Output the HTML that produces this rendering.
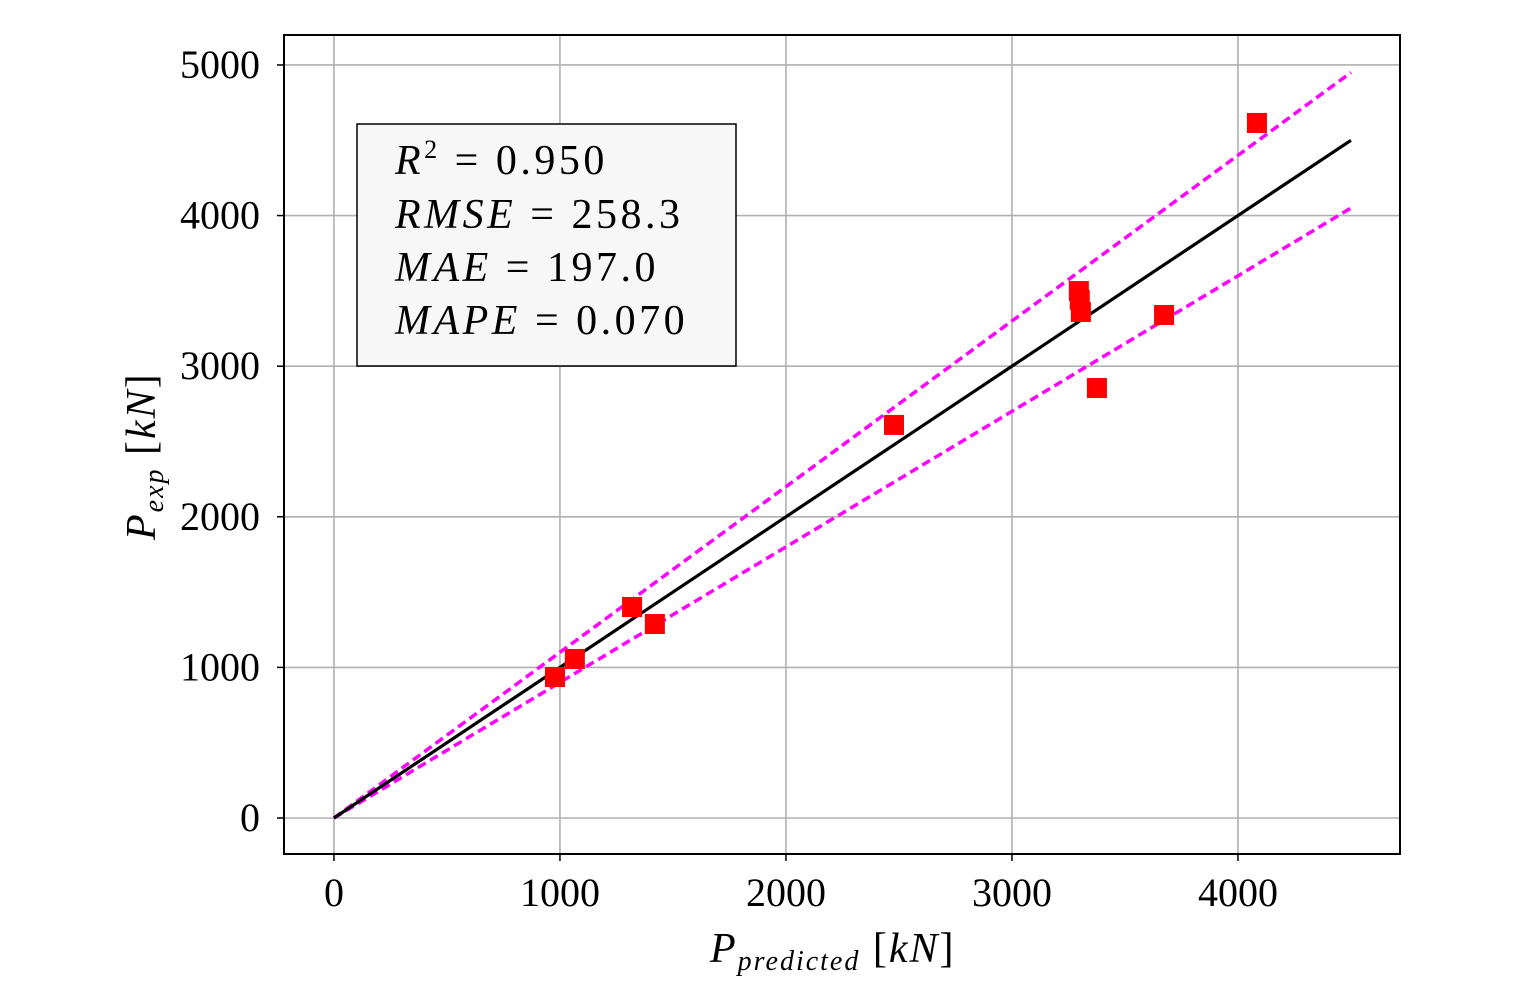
<!DOCTYPE html>
<html><head><meta charset="utf-8"><style>
body{margin:0;background:#fff;}
svg{display:block;font-family:"Liberation Serif",serif;}
</style></head><body>
<svg id="chart" width="1518" height="1008" xmlns="http://www.w3.org/2000/svg">
<rect x="0" y="0" width="1518" height="1008" fill="#fff"/>
<g id="grid"></g>
<g id="lines"></g>
<g id="points"></g>
<rect x="284" y="35" width="1116" height="819" fill="none" stroke="#000" stroke-width="2"/>
<g id="ticks"></g>
<g letter-spacing="3.5">
<rect x="357" y="124" width="379" height="242" fill="#f7f7f7" stroke="#000" stroke-width="1.5"/>
<text x="395" y="174" font-size="42" font-style="italic">R<tspan font-size="26" dy="-16" font-style="normal">2</tspan><tspan dy="16" font-style="normal"> = 0.950</tspan></text>
<text x="395" y="228" font-size="42"><tspan font-style="italic">RMSE</tspan> = 258.3</text>
<text x="395" y="281" font-size="42"><tspan font-style="italic">MAE</tspan> = 197.0</text>
<text x="395" y="334" font-size="42"><tspan font-style="italic">MAPE</tspan> = 0.070</text>
</g>
<text x="710" y="962" font-size="42" letter-spacing="2"><tspan font-style="italic">P</tspan><tspan font-size="28" dy="8" font-style="italic">predicted</tspan><tspan dy="-8">  [</tspan><tspan font-style="italic">kN</tspan>]</text>
<text transform="translate(155,540) rotate(-90)" font-size="42" letter-spacing="2"><tspan font-style="italic">P</tspan><tspan font-size="28" dy="8" font-style="italic">exp</tspan><tspan dy="-8">  [</tspan><tspan font-style="italic">kN</tspan>]</text>
</svg>
<script>
const xTicks=[0,1000,2000,3000,4000];
const yTicks=[0,1000,2000,3000,4000,5000];
const predicted=[4084,3296,3300,3305,3673,3376,2478,1319,1420,1066,978];
const experimental=[4615,3499,3440,3360,3340,2855,2610,1401,1288,1056,936];
const refMax=4500;
const upperFactor=1.1;
const lowerFactor=0.9;
const NS="http://www.w3.org/2000/svg";
const X0=284,X1=1400,Y0=854,Y1=35;
const xmin=-221,xmax=4717,ymin=-239,ymax=5199;
const sx=v=>X0+(v-xmin)/(xmax-xmin)*(X1-X0);
const sy=v=>Y0-(v-ymin)/(ymax-ymin)*(Y0-Y1);
function mk(tag,attrs,parent){const e=document.createElementNS(NS,tag);for(const k in attrs)e.setAttribute(k,attrs[k]);parent.appendChild(e);return e;}
const grid=document.getElementById('grid'),ticks=document.getElementById('ticks');
xTicks.forEach(t=>{
 const g=mk('line',{x1:sx(t),x2:sx(t),y1:Y1,y2:Y0,stroke:'#b0b0b0','stroke-width':1.6},grid);
 
 
 mk('line',{x1:sx(t),x2:sx(t),y1:Y0,y2:Y0+7,stroke:'#000','stroke-width':1.5},ticks);
 const l=mk('text',{x:sx(t),y:Y0+52,'font-size':40,'text-anchor':'middle'},ticks);
 l.textContent=t;
 
 
});
yTicks.forEach(t=>{
 const g=mk('line',{x1:X0,x2:X1,y1:sy(t),y2:sy(t),stroke:'#b0b0b0','stroke-width':1.6},grid);
 
 
 mk('line',{x1:X0-7,x2:X0,y1:sy(t),y2:sy(t),stroke:'#000','stroke-width':1.5},ticks);
 const l=mk('text',{x:X0-24,y:sy(t)+13,'font-size':40,'text-anchor':'end'},ticks);
 l.textContent=t;
 
 
});
const lines=document.getElementById('lines');
const up=mk('line',{x1:sx(0),y1:sy(0),x2:sx(refMax),y2:sy(refMax*upperFactor),stroke:'#ff00ff','stroke-width':3.5,'stroke-dasharray':'9,5'},lines);


const lo=mk('line',{x1:sx(0),y1:sy(0),x2:sx(refMax),y2:sy(refMax*lowerFactor),stroke:'#ff00ff','stroke-width':3.5,'stroke-dasharray':'9,5'},lines);


const pts=document.getElementById('points');
predicted.forEach((p,i)=>{
 const r=mk('rect',{x:sx(p)-10,y:sy(experimental[i])-10,width:20,height:20,fill:'#ff0000'},pts);
 
 
});
const id=mk('line',{x1:sx(0),y1:sy(0),x2:sx(refMax),y2:sy(refMax),stroke:'#000','stroke-width':3.2},lines);


</script>
</body></html>
